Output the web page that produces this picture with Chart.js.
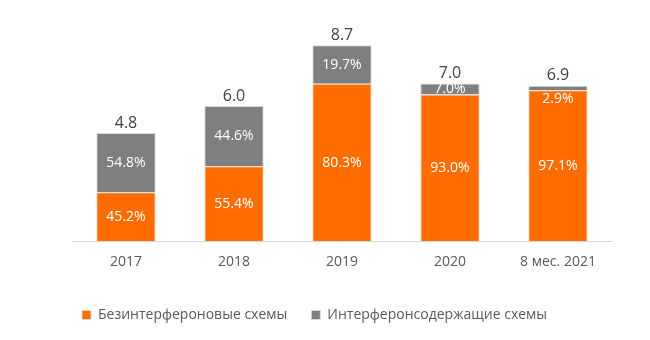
<!DOCTYPE html>
<html>
<head>
<meta charset="utf-8">
<script src="https://cdn.jsdelivr.net/npm/chart.js@4"></script>
<style>
  html, body { margin: 0; padding: 0; background: #fff; }
  #wrap { width: 650px; height: 340px; }
</style>
</head>
<body>
<div id="wrap"><canvas id="schemesChart" width="650" height="340"></canvas></div>
<script>
const categories = ["2017", "2018", "2019", "2020", "8 мес. 2021"];
const totals = [4.8, 6.0, 8.7, 7.0, 6.9];
const ifnFreeShare = [45.2, 55.4, 80.3, 93.0, 97.1]; // %
const ifnShare = [54.8, 44.6, 19.7, 7.0, 2.9]; // %

const colors = {
  orange: "#FF6D00",
  gray: "#7F7F7F",
  edge: "#D9D9D9",
  total: "#404040",
  axis: "#595959",
};

const font = "'Open Sans', 'Noto Sans', sans-serif";

const ifnFreeValues = totals.map((t, i) => (t * ifnFreeShare[i]) / 100);
const ifnValues = totals.map((t, i) => (t * ifnShare[i]) / 100);

// percent labels inside segments + totals above the stacks
const labelsPlugin = {
  id: "barLabels",
  afterDatasetsDraw(chart) {
    const ctx = chart.ctx;
    ctx.save();
    ctx.textAlign = "center";
    ctx.textBaseline = "middle";
    ctx.font = `14px ${font}`;
    ctx.fillStyle = "#ffffff";
    const shares = [ifnFreeShare, ifnShare];
    chart.data.datasets.forEach((ds, di) => {
      chart.getDatasetMeta(di).data.forEach((bar, i) => {
        const h = bar.base - bar.y;
        let y = (bar.y + bar.base) / 2;
        if (h < 8) y = bar.base + 9; // tiny segment: label goes just below it
        ctx.fillText(shares[di][i].toFixed(1) + "%", bar.x, y);
      });
    });
    ctx.fillStyle = colors.total;
    ctx.font = `16px ${font}`;
    chart.getDatasetMeta(1).data.forEach((bar, i) => {
      ctx.fillText(totals[i].toFixed(1), bar.x, bar.y - 10);
    });
    ctx.restore();
  },
};

new Chart(document.getElementById("schemesChart"), {
  type: "bar",
  data: {
    labels: categories,
    datasets: [
      {
        label: "Безинтерфероновые схемы",
        data: ifnFreeValues,
        backgroundColor: colors.orange,
        borderColor: colors.edge,
        borderWidth: 1,
        categoryPercentage: 1,
        barPercentage: 0.55,
      },
      {
        label: "Интерферонсодержащие схемы",
        data: ifnValues,
        backgroundColor: colors.gray,
        borderColor: colors.edge,
        borderWidth: 1,
        categoryPercentage: 1,
        barPercentage: 0.55,
      },
    ],
  },
  options: {
    responsive: false,
    animation: false,
    layout: { padding: { left: 72, right: 38, top: 16, bottom: 8 } },
    plugins: {
      tooltip: { enabled: false },
      legend: {
        position: "bottom",
        align: "start",
        labels: {
          color: colors.axis,
          boxWidth: 9,
          boxHeight: 9,
          padding: 10,
          font: { family: font, size: 14 },
          generateLabels(chart) {
            const items = Chart.defaults.plugins.legend.labels.generateLabels(chart);
            // widen the gap between the two entries a bit
            items[0].text += "\u2002\u2002";
            return items;
          },
        },
      },
    },
    scales: {
      x: {
        stacked: true,
        grid: { display: false },
        border: { color: colors.edge, width: 1 },
        ticks: {
          color: colors.axis,
          padding: 4,
          font: { family: font, size: 14 },
        },
        afterFit(scale) {
          scale.height += 24;
        },
      },
      y: {
        stacked: true,
        display: false,
        min: 0,
        max: 10,
      },
    },
  },
  plugins: [labelsPlugin],
});
</script>
</body>
</html>
